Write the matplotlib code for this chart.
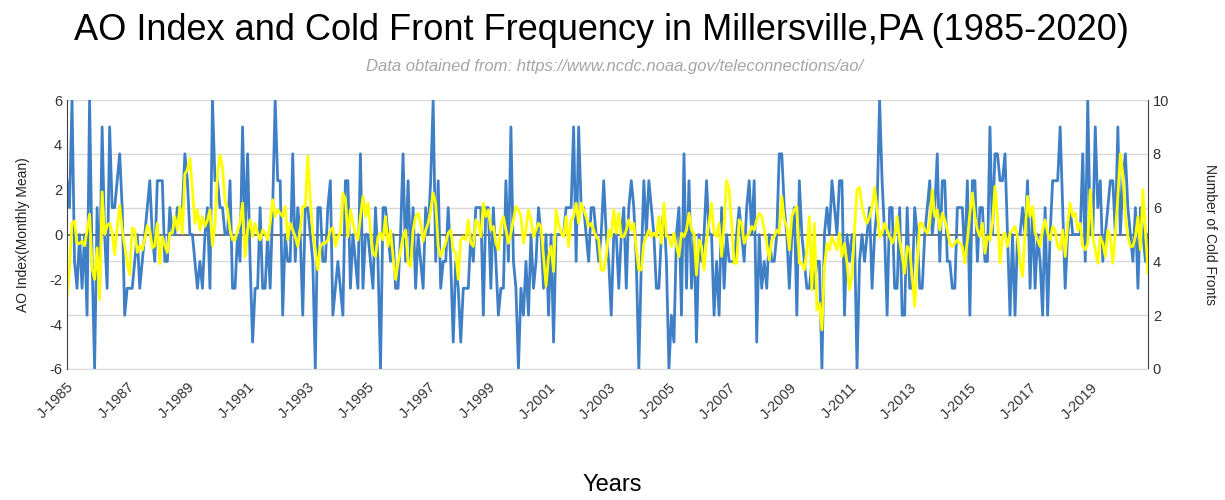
import matplotlib.pyplot as plt

# monthly values Jan 1985 - Dec 2020
cold_fronts = [
    7, 6, 10, 4, 3, 5, 3, 5, 2, 10, 4, 0, 6, 3, 9, 5, 3, 9, 6, 6, 7, 8, 6, 2,
    3, 3, 3, 4, 5, 3, 4, 5, 6, 7, 5, 4, 7, 7, 7, 4, 4, 6, 5, 5, 6, 6, 6, 8,
    7, 5, 5, 4, 3, 4, 3, 5, 6, 3, 10, 7, 7, 6, 6, 5, 5, 7, 3, 3, 5, 4, 9, 5,
    8, 4, 1, 3, 3, 6, 3, 3, 5, 3, 6, 10, 7, 7, 2, 5, 4, 4, 8, 4, 6, 5, 2, 6,
    6, 5, 4, 0, 6, 6, 4, 4, 6, 7, 2, 3, 4, 3, 2, 7, 7, 3, 5, 4, 3, 8, 3, 5,
    5, 4, 3, 6, 4, 0, 6, 6, 5, 4, 5, 3, 3, 5, 8, 4, 7, 4, 6, 3, 5, 4, 3, 6,
    5, 7, 10, 4, 7, 3, 4, 4, 6, 4, 1, 4, 3, 1, 3, 3, 3, 5, 4, 6, 6, 6, 2, 6,
    6, 3, 6, 4, 2, 3, 3, 7, 4, 9, 4, 3, 0, 3, 2, 4, 2, 5, 3, 4, 6, 5, 3, 5,
    2, 5, 1, 5, 5, 5, 5, 6, 6, 6, 9, 4, 9, 6, 6, 5, 4, 6, 6, 5, 4, 5, 7, 5,
    4, 2, 5, 5, 3, 5, 6, 3, 6, 7, 6, 4, 0, 4, 7, 5, 7, 6, 5, 3, 3, 5, 6, 4,
    0, 2, 1, 5, 6, 2, 8, 3, 7, 3, 5, 1, 5, 4, 5, 7, 5, 5, 2, 4, 2, 6, 3, 5,
    4, 4, 4, 5, 6, 5, 4, 6, 7, 5, 7, 1, 5, 3, 4, 3, 5, 4, 4, 5, 8, 8, 6, 5,
    3, 5, 6, 2, 7, 5, 4, 3, 3, 4, 3, 4, 4, 0, 5, 6, 5, 7, 6, 5, 7, 7, 2, 5,
    4, 5, 5, 0, 4, 5, 4, 5, 6, 3, 5, 6, 10, 7, 5, 2, 6, 6, 3, 3, 6, 2, 2, 6,
    3, 3, 6, 5, 3, 3, 5, 6, 7, 5, 6, 8, 4, 7, 7, 4, 4, 3, 3, 6, 6, 6, 4, 7,
    2, 7, 7, 4, 6, 6, 4, 4, 9, 5, 8, 8, 7, 7, 8, 5, 2, 5, 2, 5, 5, 6, 5, 7,
    3, 6, 3, 5, 4, 2, 6, 2, 5, 7, 7, 7, 9, 6, 3, 5, 6, 5, 5, 5, 5, 8, 4, 10,
    5, 5, 9, 6, 7, 4, 5, 6, 7, 7, 5, 9, 5, 7, 8, 6, 5, 4, 6, 3, 6, 5, 4, 5,
]

ao_index = [
    -2.76, -1.5, 0.5, 0.6, -0.4, -0.4, -0.3, -0.5, 0.2, 0.9, -1.5, -2.0,
    -0.6, -2.9, 1.9, 0.0, 0.4, 0.5, 0.1, -0.9, 0.3, 1.3, 0.2, -0.5,
    -1.3, -1.8, 0.3, 0.2, -0.8, -0.5, -0.7, -0.2, 0.4, 0.2, -0.6, -0.5,
    0.5, -1.3, -0.1, -0.5, -0.8, 0.06, 0.06, 0.8, 0.2, 1.25, 0.06, 2.7,
    2.9, 3.4, 2.0, 0.5, 1.1, 0.2, 0.8, 0.36, 0.65, 1.1, -0.5, 0.5,
    2.7, 3.55, 3.0, 1.5, 1.1, 0.2, -0.24, -0.24, 0.2, 0.5, 1.4, -1.0,
    0.2, 0.65, -0.1, 0.5, 0.06, -0.24, 0.2, 0.06, -0.24, 0.5, 1.55, 0.8,
    1.1, 0.95, 0.8, 1.25, -0.24, 0.5, 0.2, -0.1, -0.53, 0.2, 1.25, 1.25,
    3.5, 1.55, 0.06, -0.68, -1.58, -0.53, -0.39, -0.39, -0.24, 0.2, 0.3, -0.53,
    -0.1, 0.06, 1.85, 1.55, -0.1, 1.1, 0.5, 0.06, -0.24, 0.8, 1.7, 0.8,
    1.4, 0.2, -0.83, -0.98, -0.1, 0.06, -0.24, 0.8, -0.53, 0.2, -0.98, -2.0,
    -1.28, -0.68, -0.1, 0.2, -1.28, -1.43, 0.2, 0.8, 0.95, 0.5, -0.3, 0.2,
    0.5, 1.1, 1.85, 1.4, -0.53, -0.98, -0.68, -0.39, 0.06, 0.2, -0.68, -0.83,
    -2.0, -0.24, -0.1, -0.24, 0.65, -0.39, -0.53, 0.65, 0.5, -0.1, 1.4, 0.8,
    1.1, 0.2, 0.36, -0.39, -0.68, 0.36, 0.8, 0.2, -0.39, 0.06, 0.65, 1.25,
    1.1, 0.8, -0.39, 0.2, 1.1, 0.65, -0.1, 0.2, 0.5, 0.36, -0.98, -2.3,
    -0.98, -0.53, -1.65, 1.1, 0.5, 0.06, -0.1, 0.8, -0.53, 0.65, 0.8, 1.4,
    0.5, 1.4, 1.1, 0.8, 0.36, 0.5, 0.2, -0.1, -0.24, -1.58, -1.6, -1.0,
    0.2, -0.1, 1.1, 0.06, 0.95, -0.1, -0.1, 0.2, 0.65, 0.2, 0.5, -0.68,
    -1.58, -1.58, -0.39, -0.1, 0.2, -0.1, 0.06, -0.1, 0.8, -0.39, 1.4, -0.1,
    -0.1, -0.53, 0.06, -0.53, -0.98, 0.06, -0.1, 0.2, 0.95, 0.2, 0.06, -1.8,
    -0.24, -0.53, -1.58, -0.24, 0.5, 1.4, 0.06, -0.1, 0.5, -0.98, 0.5, 2.4,
    2.0, 0.5, -1.28, -1.28, 0.65, 0.5, -0.39, -0.1, 0.06, 0.36, 0.2, 0.65,
    0.95, 0.8, 0.2, -0.39, -1.13, -0.24, -0.1, 0.2, 0.06, 1.7, 0.65, 0.36,
    -0.68, 0.8, 1.1, 1.25, -1.28, -1.28, -1.58, -0.68, 0.8, -2.47, 0.5, -3.36,
    -3.06, -4.25, -1.43, -0.39, -0.68, -0.1, -0.39, -0.68, 0.06, -0.98, -0.39, -1.28,
    -2.47, -1.87, 0.2, 2.0, 2.1, 1.25, 0.8, 0.5, 0.8, 1.2, 2.1, 1.1,
    -0.1, 0.06, 0.5, 0.2, -0.1, -0.39, -0.1, 0.8, -0.24, -0.98, -1.72, -0.53,
    -0.68, -1.87, -3.21, -1.28, 0.5, 0.5, 0.2, 0.06, 0.5, 2.0, 0.8, 1.1,
    0.2, 0.95, 0.65, 0.2, -0.39, -0.53, -0.39, -0.24, -0.39, -0.53, -1.28, -0.24,
    0.95, 1.85, 0.8, 0.2, -0.1, 0.5, -0.83, -0.1, -0.24, 0.5, 2.15, 0.8,
    -1.28, -0.1, 0.06, -0.53, 0.06, 0.2, 0.36, -0.1, -1.28, -1.87, 0.06, 1.7,
    0.8, 1.25, 0.06, -0.24, -0.53, 0.2, 0.65, 0.06, -0.24, 0.36, 0.2, -0.53,
    -0.68, 0.2, -0.98, 0.5, 1.4, 0.8, 0.95, 0.2, 0.5, -0.53, -0.68, -0.39,
    2.0, -0.1, -0.68, -1.28, -0.1, -0.39, -0.98, 0.2, -0.1, -1.28, 0.06, 1.7,
    3.6, 2.7, 0.8, -0.1, -0.53, -0.53, -0.1, 0.8, -0.68, 2.0, 0.2, -1.72,
]

years = list(range(1985, 2021))
months = list(range(len(ao_index)))
tick_pos = months[::24]
tick_labels = ["J-%d" % y for y in years[::2]]

plt.rcParams['font.family'] = ['Liberation Sans', 'DejaVu Sans']
plt.rcParams['axes.unicode_minus'] = False

fig = plt.figure(figsize=(12.25, 5), dpi=100)
ax = fig.add_axes([0.0547, 0.262, 0.8824, 0.538])
ax2 = ax.twinx()
ax.set_zorder(ax2.get_zorder() + 1)
ax.patch.set_visible(False)

# grid + zero axis line live on the lower (right) axes so they sit under the lines
ax2.set_ylim(0, 10)
ax2.set_yticks(range(0, 11, 2))
ax2.grid(axis='y', color='#d9d9d9', lw=1)
ax2.axhline(5, color='#595959', lw=1.2)

ax2.plot(months, cold_fronts, color='#3F7FC6', lw=2.0, solid_joinstyle='round')
ax.plot(months, ao_index, color='#FFFF00', lw=2.0, solid_joinstyle='round')

ax.set_ylim(-6, 6)
ax.set_yticks(range(-6, 7, 2))
ax.set_xlim(0, len(months) - 1)
ax.set_xticks(tick_pos)
ax.set_xticklabels(tick_labels, rotation=45, ha='right', rotation_mode='anchor')

for a in (ax, ax2):
    a.tick_params(length=0, labelsize=10.5, colors='#333333')
    for s in a.spines.values():
        s.set_visible(False)
ax.tick_params(axis='x', pad=8, labelsize=10.5)
ax.spines['left'].set_visible(True)
ax.spines['left'].set_color('#404040')
ax2.spines['right'].set_visible(True)
ax2.spines['right'].set_color('#404040')
ax2.spines['bottom'].set_visible(True)
ax2.spines['bottom'].set_color('#d9d9d9')

ax.set_ylabel("AO Index(Monthly Mean)", fontsize=10, color='#222222', labelpad=14)
ax2.set_ylabel("Number of Cold Fronts", fontsize=10, color='#222222',
               rotation=-90, va='bottom', labelpad=24)

fig.text(0.491, 0.94, "AO Index and Cold Front Frequency in Millersville,PA (1985-2020)",
         ha='center', va='center', fontsize=26)
fig.text(0.502, 0.868, "Data obtained from: https://www.ncdc.noaa.gov/teleconnections/ao/",
         ha='center', va='center', fontsize=12, style='italic', color='#a6a6a6')
fig.text(0.5, 0.03, "Years", ha='center', va='center', fontsize=17)

fig.savefig("out.png", dpi=100)
